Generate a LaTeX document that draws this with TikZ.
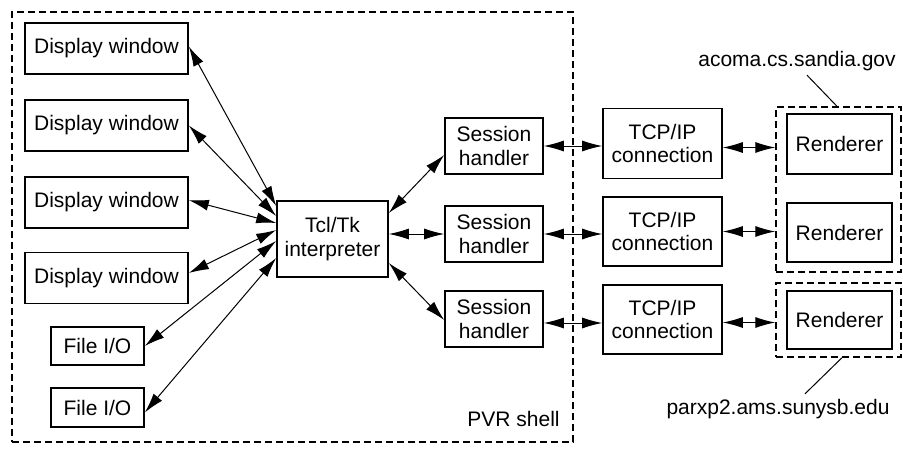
\documentclass[tikz,border=0pt]{standalone}
\usepackage{fontspec}
\setmainfont{Liberation Sans}
\usetikzlibrary{arrows.meta,calc}
\begin{document}
\begin{tikzpicture}[x=0.5pt,y=-0.5pt,
  box/.style={draw, line width=0.8pt, inner sep=0pt, align=center, font=\fontsize{10.5}{11.8}\selectfont},
  grp/.style={draw, line width=0.7pt, dash pattern=on 3.5pt off 2pt, inner sep=0pt},
  link/.style={line width=0.5pt, {Latex[length=10pt,width=5.5pt]}-{Latex[length=10pt,width=5.5pt]}},
  lbl/.style={inner sep=0pt, font=\fontsize{10.5}{12}\selectfont},
  lead/.style={line width=0.5pt}]
\useasboundingbox[fill=white] (0,0) rectangle (903,455);
% PVR shell
\node[grp, minimum width=280.5pt, minimum height=215pt] (pvr) at (292.5,227) {};
\node[lbl, anchor=east] (pvrlbl) at (560,419) {PVR shell};
% display windows
\node[box, minimum width=81.5pt, minimum height=25.5pt] (dw1) at (106.5,48.5) {Display window};
\node[box, minimum width=81.5pt, minimum height=25.5pt] (dw2) at (106.5,125.5) {Display window};
\node[box, minimum width=81.5pt, minimum height=25.5pt] (dw3) at (106.5,202.5) {Display window};
\node[box, minimum width=81.5pt, minimum height=25.5pt] (dw4) at (106.5,278) {Display window};
\node[box, minimum width=46.5pt, minimum height=19pt] (f1) at (97.5,346) {File I/O};
\node[box, minimum width=46.5pt, minimum height=19.5pt] (f2) at (97.5,407.5) {File I/O};
% interpreter
\node[box, minimum width=55.5pt, minimum height=38pt] (tcl) at (332.5,239) {Tcl/Tk\\interpreter};
% session handlers
\node[box, minimum width=49pt, minimum height=28pt] (sh1) at (494,146) {Session\\handler};
\node[box, minimum width=49pt, minimum height=28pt] (sh2) at (494,234) {Session\\handler};
\node[box, minimum width=49pt, minimum height=28pt] (sh3) at (494,319) {Session\\handler};
% TCP/IP
\node[box, minimum width=59.5pt, minimum height=35pt] (tcp1) at (662.5,143.5) {TCP/IP\\connection};
\node[box, minimum width=59.5pt, minimum height=34.5pt] (tcp2) at (662.5,231.5) {TCP/IP\\connection};
\node[box, minimum width=59.5pt, minimum height=34.5pt] (tcp3) at (662.5,319.5) {TCP/IP\\connection};
% renderer groups
\node[grp, minimum width=62.5pt, minimum height=82.5pt] (g1) at (838.5,189.5) {};
\node[grp, minimum width=62.5pt, minimum height=37pt] (g2) at (838.5,320) {};
\node[box, minimum width=52.5pt, minimum height=30pt] (r1) at (839.5,144) {Renderer};
\node[box, minimum width=52.5pt, minimum height=29.5pt] (r2) at (839.5,232.5) {Renderer};
\node[box, minimum width=52.5pt, minimum height=29pt] (r3) at (839.5,320) {Renderer};
% host labels
\node[lbl] (acoma) at (797,61) {acoma.cs.sandia.gov};
\node[lbl] (parxp) at (778,409) {parxp2.ams.sunysb.edu};
\draw[lead] ([xshift=5pt,yshift=-2pt]acoma.south) -- ([xshift=-0.75pt]g1.north);
\draw[lead] ([xshift=1.75pt]g2.south) -- ([xshift=13.5pt,yshift=2.5pt]parxp.north);
% fan-in arrows
\draw[link] ([yshift=1pt]dw1.east) -- ([yshift=16.5pt]tcl.west);
\draw[link] (dw2.east) -- ([yshift=11.5pt]tcl.west);
\draw[link] ([yshift=1.2pt]dw3.east) -- ([yshift=8pt]tcl.west);
\draw[link] ([yshift=2.5pt]dw4.east) -- ([yshift=4.5pt]tcl.west);
\draw[link] (f1.east) -- ([yshift=-1pt]tcl.west);
\draw[link] ([yshift=-2.5pt]f2.east) -- ([yshift=-9.5pt]tcl.west);
% interpreter to session handlers
\draw[link] ([yshift=13pt]tcl.east) -- ([yshift=-4.5pt]sh1.west);
\draw[link] ([yshift=2.5pt]tcl.east) -- (sh2.west);
\draw[link] ([yshift=-12pt]tcl.east) -- ([yshift=-0.5pt]sh3.west);
% session handlers to TCP/IP
\draw[link] (sh1.east) -- (sh1.east -| tcp1.west);
\draw[link] (sh2.east) -- (sh2.east -| tcp2.west);
\draw[link] ([yshift=-2pt]sh3.east) -- ([yshift=-2pt]sh3.east -| tcp3.west);
% TCP/IP to renderers
\draw[link] ([yshift=-2pt]tcp1.east) -- ([yshift=-2pt]tcp1.east -| g1.west);
\draw[link] (tcp2.east) -- (tcp2.east -| g1.west);
\draw[link] ([yshift=-1.5pt]tcp3.east) -- ([yshift=-1.5pt]tcp3.east -| g2.west);
\end{tikzpicture}
\end{document}
